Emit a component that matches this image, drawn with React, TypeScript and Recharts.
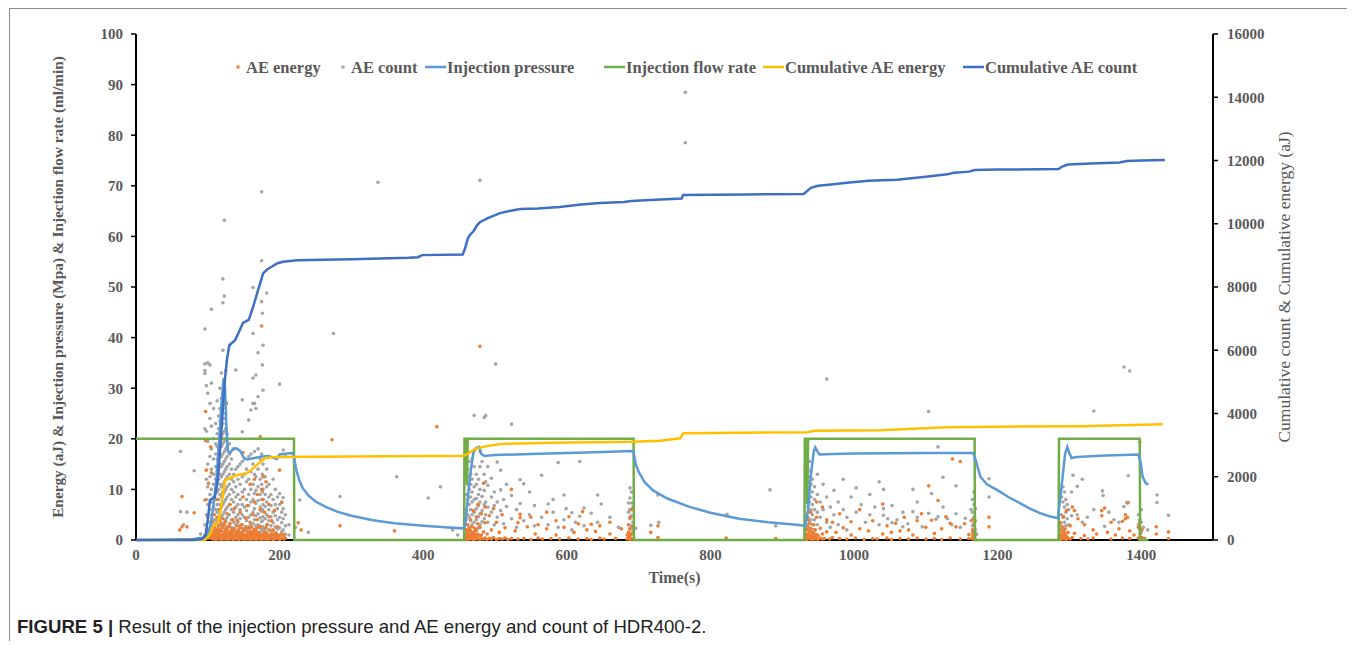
import React from 'react';
import { ComposedChart, Line, Scatter, XAxis, YAxis, Legend } from 'recharts';

const SERIF = '"Liberation Serif", "Times New Roman", serif';
const GRAY_TEXT = '#595959';

const xTicks = [0, 200, 400, 600, 800, 1000, 1200, 1400];
const leftTicks = [0, 10, 20, 30, 40, 50, 60, 70, 80, 90, 100];
const rightTicks = [0, 2000, 4000, 6000, 8000, 10000, 12000, 14000, 16000];

// injection pressure (Mpa): [time, value]
const injectionPressure: [number, number][] = [
  [0, 0], [40, 0.05], [80, 0.2], [95, 0.5], [100, 1.2], [104, 3], [108, 7], [112, 12], [116, 20], [119, 27],
  [122, 32], [124, 30], [126, 22], [128, 17.5], [131, 17.2], [135, 18], [140, 18.1], [145, 17.6], [150, 16.3],
  [155, 15.9], [165, 16.2], [175, 16.5], [185, 16.6], [192, 16.2], [196, 16], [200, 16.9], [210, 17.1],
  [218, 17.2], [220, 16.5], [223, 14], [227, 12], [232, 10.3], [240, 8.8], [250, 7.6], [265, 6.5], [280, 5.6],
  [300, 4.8], [330, 3.9], [360, 3.3], [400, 2.8], [430, 2.5], [455, 2.3], [458, 2.6], [462, 8], [466, 13.5],
  [470, 17.3], [474, 18.2], [478, 18.4], [481, 17], [485, 16.6], [500, 16.8], [550, 17], [600, 17.2],
  [650, 17.4], [690, 17.6], [693, 17.4], [696, 15], [700, 13.5], [708, 11.5], [720, 9.8], [740, 8.2],
  [770, 6.6], [800, 5.4], [840, 4.2], [880, 3.5], [920, 3], [932, 2.8], [936, 6], [940, 13], [944, 17.5],
  [946, 18.3], [949, 17.5], [952, 16.9], [970, 17], [1000, 17.1], [1100, 17.2], [1166, 17.2], [1169, 16],
  [1172, 14.5], [1176, 12.5], [1185, 11], [1199, 9.9], [1215, 8.5], [1231, 7.3], [1245, 6.2], [1259, 5.3],
  [1272, 4.7], [1284, 4.3], [1287, 8], [1291, 13], [1294, 17], [1297, 18.4], [1300, 17.2], [1303, 16.2],
  [1310, 16.4], [1350, 16.7], [1396, 16.9], [1399, 15.5], [1402, 12.5], [1406, 11.3], [1410, 10.9],
];

// injection flow rate (ml/min)
const injectionFlow: [number, number][] = [
  [0, 20], [220, 20], [220.5, 0], [457, 0], [457.5, 20], [460, 20], [461, 11], [462, 20], [693, 20],
  [693.5, 0], [931, 0], [931.5, 20], [934, 20], [935, 7], [936, 20], [1168, 20], [1168.5, 0], [1285, 0],
  [1285.5, 20], [1398, 20], [1398.5, 0], [1410, 0],
];

// cumulative AE count (right axis)
const cumulativeCount: [number, number][] = [
  [0, 0], [80, 0], [92, 32], [97, 160], [100, 640], [103, 1264], [110, 1360], [114, 1920], [117, 2848],
  [121, 4160], [124, 5120], [127, 5760], [130, 6160], [138, 6320], [143, 6560], [149, 6864], [157, 6960],
  [163, 7360], [170, 7904], [177, 8432], [183, 8560], [189, 8640], [197, 8752], [205, 8800], [224, 8848],
  [300, 8880], [380, 8928], [393, 8944], [398, 9008], [455, 9024], [458, 9200], [462, 9520], [465, 9648],
  [470, 9760], [475, 9952], [479, 10048], [490, 10176], [507, 10336], [520, 10400], [535, 10464],
  [560, 10480], [590, 10528], [620, 10608], [646, 10656], [680, 10688], [690, 10720], [716, 10752],
  [760, 10800], [762, 10912], [850, 10928], [930, 10944], [935, 11040], [940, 11136], [950, 11200],
  [965, 11232], [990, 11296], [1020, 11360], [1060, 11392], [1080, 11440], [1100, 11488], [1130, 11568],
  [1140, 11616], [1160, 11648], [1168, 11696], [1200, 11712], [1285, 11728], [1290, 11808], [1298, 11872],
  [1330, 11904], [1370, 11936], [1380, 11984], [1400, 12000], [1433, 12016],
];

// cumulative AE energy (right axis)
const cumulativeEnergy: [number, number][] = [
  [0, 0], [96, 0], [100, 80], [104, 240], [107, 416], [114, 528], [118, 960], [122, 1600], [124, 1888],
  [132, 1968], [140, 2048], [154, 2112], [160, 2208], [168, 2368], [175, 2496], [180, 2592], [196, 2624],
  [300, 2640], [400, 2656], [455, 2656], [462, 2720], [470, 2848], [477, 2912], [490, 2976], [511, 3040],
  [581, 3072], [692, 3104], [730, 3136], [758, 3216], [762, 3376], [841, 3392], [935, 3408], [945, 3456],
  [1036, 3472], [1129, 3568], [1200, 3584], [1315, 3600], [1430, 3664],
];

// AE count hits: [time, values at that time]
const aeCount: [number, number[]][] = [
  [62, [5.6, 17.5]], [66, [3]], [71, [5.5]], [81, [13.7]], [90, [1.2]],
  [96, [41.7, 32.9, 33.5, 34.8, 22, 3, 1]], [98, [30.5, 21.5, 12, 8, 5, 2, 0.5]],
  [100, [35, 29, 19.5, 15, 10.5, 7, 4.5, 2.2, 1]], [103, [34.6, 27, 24, 16.5, 12.5, 9, 6, 3.5, 1.5, 0.6]],
  [105, [45.6, 31, 22.5, 18, 14, 10, 7.5, 5, 2.8, 1.2]], [108, [26, 20, 16, 13, 11, 8.5, 6.5, 4, 2.5, 1]],
  [111, [23, 19, 17, 14.5, 12, 10, 8, 6, 4, 2, 0.8]], [113, [27.5, 21, 18.5, 16, 13.5, 11.5, 9.5, 7, 5.5, 3.5, 1.5]],
  [115, [24.5, 22, 20, 18, 16, 14, 12, 10, 8, 6, 4, 2, 0.5]],
  [117, [30, 26, 23.5, 21, 19, 17, 15, 13, 11, 9, 7, 5, 3, 1]],
  [119, [33, 28, 25, 22.5, 20.5, 18.5, 16.5, 14.5, 12.5, 10.5, 8.5, 6.5, 4.5, 2.5, 0.8]],
  [121, [37.5, 46.9, 51.6, 29, 26, 23, 21, 19, 17, 15, 13, 11, 9, 7, 5, 3, 1]],
  [123, [48.2, 63.2, 27, 24, 21.5, 19.5, 17.5, 15.5, 13.5, 11.5, 9.5, 7.5, 5.5, 3.5, 1.5]],
  [125, [33.5, 25, 22, 20, 18, 16, 14, 12, 10, 8, 6, 4, 2, 0.6]],
  [127, [21, 18.5, 16.5, 14.5, 12.5, 10.5, 8.5, 6.5, 4.5, 2.5, 1]], [130, [19, 17, 15, 13, 11, 9, 7, 5, 3, 1.5]],
  [133, [16, 14, 12, 10, 8, 6, 4, 2.5, 1]], [136, [18, 13, 11.5, 9.5, 7.5, 5.5, 3.5, 2, 0.7]],
  [139, [33.6, 14, 10.5, 8.5, 6.5, 4.5, 3, 1.2]], [142, [14.5, 12, 9, 7, 5, 3.5, 2, 0.8]],
  [145, [15, 11, 8, 6, 4.2, 2.8, 1.4]], [148, [27.7, 21.4, 15.5, 12.5, 9.5, 7, 5, 3, 1.5]],
  [151, [16, 13, 10, 6.5, 4.5, 2.2, 0.9]], [154, [14, 11.5, 8, 5.8, 3.8, 2, 1]],
  [157, [23.7, 16.5, 12, 9, 6.8, 4.5, 2.6, 1.2]], [160, [25.7, 17, 13.5, 10, 7.5, 5, 3, 1.5]],
  [163, [49.9, 40.8, 32, 27, 15, 11, 8, 5.5, 3.2, 1.6]], [165, [27, 17.5, 13, 9.2, 6.2, 4, 2, 0.8]],
  [167, [32.6, 26, 12.5, 9.8, 7.2, 4.8, 2.8, 1.2]], [170, [37, 28.3, 18, 14, 10.5, 7.8, 5.2, 3, 1.4]],
  [173, [16, 12, 9, 6.5, 4.4, 2.4, 1]], [175, [55.2, 47.1, 68.8, 17, 11, 8, 5.7, 3.6, 1.8]],
  [176, [44.8, 34.6, 13, 9.5, 6, 3.8, 2.1]], [177, [38.5, 29.6, 15, 10, 7, 4.6, 2.6, 1.1]],
  [180, [12.5, 9, 6.6, 4.2, 2.2, 1]], [182, [48.8, 14, 10.5, 7.5, 5, 3, 1.4]], [185, [11, 8.5, 6, 3.8, 2, 0.9]],
  [188, [9, 6.8, 4.6, 2.8, 1.2]], [191, [12, 8, 5.5, 3.4, 1.8]], [194, [10, 7, 4.8, 2.6, 1.1]],
  [197, [8.5, 6.2, 4, 2.2, 0.9]], [200, [30.8, 9.2, 7, 4.5, 2.4, 1]], [203, [7.5, 5.5, 3.4, 1.6]],
  [205, [17.8, 8.4, 6.2, 4.2, 2, 0.8]], [208, [16.5, 5, 2.8, 1.2]], [213, [3, 1]], [222, [2.5]],
  [228, [7.9]], [240, [1.5]], [275, [40.8]], [284, [8.6]], [337, [70.7]], [363, [12.5]], [407, [8.3]],
  [424, [10.5]], [441, [2]], [448, [1]],
  [458, [3, 1]], [460, [9, 6, 4, 2, 0.8]], [462, [14, 11, 8, 5, 3, 1.5]], [464, [15.5, 12.5, 10, 7, 4.5, 2.5, 1]],
  [466, [13, 11, 8.5, 6, 3.8, 1.8]], [468, [16, 12, 9.5, 7.5, 5, 3, 1.2]], [471, [24.6, 14.5, 10.5, 8, 5.5, 3.5, 1.6]],
  [474, [13, 11, 8.2, 6.2, 4, 2]], [477, [12, 9, 6.8, 4.6, 2.4]], [479, [71.1, 17.5, 14.5, 10, 7.5, 5.2, 3]],
  [482, [15.5, 8.6, 5.8, 3.6]], [485, [24.2, 13, 9.8, 7, 4.2]], [487, [24.6, 11.5, 7.5, 5]],
  [490, [14.5, 10.8, 6.5, 3.5]], [495, [12.2, 8.5, 5.5]], [499, [9.5, 6.8, 3]], [501, [34.8]], [503, [15.4, 7.5, 4.5]],
  [508, [13.8, 9.9, 5.8]], [512, [8, 3.2]], [516, [11, 6.6]], [523, [22.9, 8.8, 4.2]], [530, [6, 2.5]],
  [535, [11.9, 7.2]], [540, [11.1, 3.8]], [548, [9.5, 5]], [555, [6.8, 2.8]], [565, [12.8, 4.5]], [574, [7.1, 3]],
  [581, [8, 5.5]], [588, [15.3, 2.5]], [596, [8.9, 4]], [599, [6.2]], [607, [5.4, 2]], [612, [3.5]],
  [618, [15.5, 4.7]], [624, [6.3, 2.8]], [634, [5.3]], [643, [8.9, 3.5]], [648, [7.1]], [660, [4.5]], [672, [2.5]],
  [686, [7.3, 5.5, 3, 1.5]], [688, [10.3, 8.3, 6, 4.2, 2.2, 1]], [690, [9.5, 7.3, 4.8, 2.8, 1.2]],
  [692, [6.5, 3.5, 1.8]], [696, [2.3]], [717, [2.9]], [727, [8.9]], [728, [3.5]], [765, [88.5, 78.5]],
  [823, [5.1]], [883, [9.9]], [891, [2.8]],
  [932, [2, 1]], [934, [8, 5, 3, 1.2]], [936, [14, 11.5, 9, 6.5, 4.5, 2.5, 1]], [938, [15.5, 12.5, 10, 7.5, 5.5, 3.5, 1.8]],
  [940, [13.5, 11, 8.5, 6, 4, 2.2]], [942, [12, 9.5, 7, 5, 3]], [945, [10.5, 8, 6, 4, 2]], [949, [13, 9, 5.5, 3]],
  [953, [7.5, 4.5]], [957, [11, 6]], [962, [31.8, 8.5, 3.5]], [967, [6.5, 2.5]], [972, [9.8, 5]], [978, [7.5, 3]],
  [985, [12, 6]], [990, [4.5, 2]], [996, [8.5]], [1003, [10.3, 5.5]], [1010, [7]], [1016, [3.5]], [1022, [9, 5]],
  [1029, [6.5]], [1035, [11.5, 3]], [1041, [10, 6.2, 4.9]], [1047, [4.2]], [1053, [3.4, 6.8]], [1060, [4]],
  [1068, [5.5, 2.6]], [1075, [3.2]], [1082, [10, 5.6]], [1088, [7.5, 4.5]], [1095, [2.6]], [1104, [25.4, 5.3]],
  [1108, [9.2]], [1114, [4.1]], [1117, [18.4, 4.6]], [1124, [12.4, 6.5]], [1130, [4.2]], [1136, [3]],
  [1142, [10.7, 5.2]], [1148, [2.5]], [1155, [4.3]], [1163, [3.8, 6]], [1165, [8, 5.5, 2.8, 1.5]],
  [1167, [9.5, 7, 4.5, 3.2, 1]], [1169, [6.2, 3.8, 2]], [1171, [1.2]], [1188, [12.1, 8.5]],
  [1287, [3, 1.2]], [1289, [8.5, 5, 2.2]], [1291, [10.5, 7.5, 4.5, 2]], [1293, [9.5, 6.5, 3.5, 1.5]],
  [1295, [8, 5.5, 2.8]], [1297, [7, 4.2]], [1299, [6, 3]], [1303, [9.5, 4.8]], [1305, [12.8]], [1311, [10.6, 5]],
  [1318, [12, 3.5]], [1325, [4.5]], [1334, [25.5, 6]], [1346, [9.7]], [1347, [8.8]], [1349, [2.7]], [1355, [5.5]],
  [1362, [4]], [1369, [3.5]], [1376, [34.2, 6.6]], [1380, [7.4]], [1382, [12.7, 7.4]], [1384, [33.4]],
  [1396, [5, 3]], [1398, [19.3, 4, 2]], [1400, [6, 3.5, 1.5]], [1403, [2.5]], [1409, [2]], [1422, [7.4, 8.9]],
  [1438, [4.9]],
];

// AE energy hits (aJ)
const aeEnergy: [number, number[]][] = [
  [61, [2]], [64, [2.6, 8.6]], [71, [2.6]], [81, [5.4]], [96, [7.9, 0.5]], [97, [25.4, 19.6]], [98, [13.8, 1]],
  [101, [11.2, 0.4, 1.5]], [104, [18.4, 0.8, 2]], [105, [13.3, 0.3]], [107, [0.2, 0.9, 1.8, 3.5]],
  [109, [0.4, 1.3, 2.5, 5]], [111, [0.1, 0.8, 1.7, 3]], [113, [0.3, 1.1, 2.2, 4.5, 8]], [115, [0.2, 0.7, 1.5, 2.8]],
  [117, [0.4, 1.2, 2, 3.8, 6]], [119, [0.1, 0.9, 1.8, 3.2]], [121, [0.3, 1, 2.4, 4.2, 9.5]], [123, [0.2, 0.8, 1.6, 2.9]],
  [125, [0.4, 1.3, 2.2, 3.6]], [126, [27]], [127, [0.1, 0.9, 1.9, 5.2]], [129, [0.3, 1.1, 2.6]],
  [131, [0.2, 0.7, 1.5, 3.3, 7]], [133, [0.4, 1.2, 2.1]], [135, [0.1, 0.8, 1.7, 4]], [137, [0.3, 1, 2.3, 6.2]],
  [139, [0.2, 0.9, 1.6]], [141, [0.4, 1.3, 2.8, 3.9]], [143, [0.1, 0.7, 1.8]], [145, [0.3, 1.1, 2.4, 5.5]],
  [147, [0.2, 0.8, 1.5, 3]], [149, [0.4, 1.2, 2.2, 17.3, 8.5]], [151, [0.1, 0.9, 1.9]], [153, [0.3, 1, 2.6, 4.3]],
  [155, [0.2, 0.8, 1.4, 6.8]], [157, [0.4, 1.3, 2.3]], [159, [0.1, 0.7, 1.7, 3.5, 11]], [161, [0.3, 1.1, 2.5]],
  [163, [0.2, 0.9, 1.6, 5]], [165, [0.4, 1.2, 2.1, 7.5, 12]], [167, [0.1, 0.8, 1.8]], [169, [0.3, 1, 2.4, 4, 9]],
  [171, [0.2, 0.7, 1.5]], [173, [0.4, 1.2, 2.7, 20.4, 6]], [175, [0.1, 0.9, 42.3, 10]], [177, [0.3, 1.1, 12.5, 8]],
  [179, [0.2, 0.8, 1.6, 5.5]], [181, [0.4, 1.3, 2.4, 11.5]], [183, [0.1, 0.9, 3]], [185, [0.3, 1, 7, 4.6]],
  [187, [0.2, 0.8, 1.9]], [189, [0.4, 1.2, 3.8]], [191, [0.1, 0.9, 2]], [193, [0.3, 1.1, 5.8]], [195, [0.2, 0.7, 1.4]],
  [197, [0.4, 1, 2.6]], [200, [0.1, 0.8, 13.8]], [203, [0.3, 1.2, 7.4]], [206, [0.2, 0.9]], [208, [0.4]],
  [226, [3.4]], [230, [2]], [273, [19.8]], [284, [2.8]], [360, [1.8]], [419, [22.4]],
  [458, [0.2, 0.8]], [460, [0.4, 1.2, 2]], [462, [0.1, 0.7, 1.6, 3]], [464, [0.3, 1, 2.2]], [466, [0.2, 0.9, 1.8, 4]],
  [468, [0.4, 1.3, 2.6]], [470, [0.1, 0.8, 1.5, 5.8]], [472, [0.3, 1.1, 2.3]], [474, [0.2, 0.7, 1.9, 4.6]],
  [476, [0.4, 1.2, 3.2, 7]], [479, [38.3, 0.1, 0.9, 2.5]], [481, [0.3, 1, 5.2]], [484, [11.2, 0.2, 1.6]],
  [486, [0.4, 6.5, 3.4]], [489, [0.1, 1.2]], [492, [0.3, 4.8]], [495, [0.2, 2]], [498, [0.5, 6.2]], [502, [0.1, 3.5]],
  [506, [0.3, 1.5]], [510, [0.2, 5]], [514, [0.4, 2.4]], [518, [0.1]], [523, [10, 0.3]], [528, [1.8]],
  [532, [0.2, 3.4]], [535, [5.1, 4.4]], [540, [0.3]], [545, [2.6]], [550, [0.1, 4.5]], [556, [1.2]], [560, [0.4, 3]],
  [566, [0.2]], [572, [2.2, 5.5]], [578, [0.3]], [585, [3.8, 1]], [590, [0.2]], [596, [2.5]], [603, [0.4, 4.6]],
  [610, [1.5]], [616, [0.2, 3.2]], [622, [5.6]], [628, [0.3, 2]], [634, [0.1, 3.1]], [640, [1.7]], [646, [0.4, 2.8]],
  [652, [0.2]], [660, [1.2, 3.5]], [668, [0.3]], [676, [2.2]], [684, [0.2, 1]], [686, [0.5, 1.5, 3]],
  [688, [0.1, 0.9, 2.2, 4.5]], [690, [0.3, 1.2, 6]], [692, [0.2, 2.5]], [717, [1.5]], [727, [0.5, 2.8]],
  [822, [0.4]], [891, [0.3]],
  [932, [0.3, 1]], [934, [0.1, 0.8, 2]], [936, [0.4, 1.2, 2.5, 4]], [938, [0.2, 0.9, 1.7, 3.2]], [940, [0.3, 1, 2.2, 5.5]],
  [942, [0.1, 0.7, 1.5]], [944, [0.4, 1.3, 3]], [946, [0.2, 0.8, 2]], [948, [0.3, 1.1, 4.5, 7.5]], [950, [0.1, 0.9]],
  [953, [0.4, 2.3]], [956, [0.2, 1.2, 6.5]], [959, [0.3]], [962, [1.6, 4]], [966, [0.2]], [970, [3.5, 0.5]],
  [975, [1.5]], [980, [0.3, 5.2]], [985, [2.4]], [990, [0.2]], [996, [3.6, 1]], [1002, [0.4]], [1008, [2.2, 6]],
  [1014, [0.1]], [1020, [1.8]], [1026, [0.3, 3.8]], [1032, [0.2]], [1040, [7.1, 1.2]], [1046, [0.4, 2.8]],
  [1052, [0.1, 1.5]], [1058, [3.3]], [1064, [0.3, 1.8]], [1070, [4.5]], [1076, [0.2, 2]], [1082, [1]],
  [1088, [3.8, 0.4]], [1094, [5.2]], [1100, [0.2, 2.5]], [1104, [10.7]], [1108, [3.9]], [1112, [0.3, 1.3]],
  [1117, [7.8]], [1122, [0.1, 2.2]], [1128, [4.6]], [1134, [0.4, 3.3]], [1137, [16]], [1142, [2.6]],
  [1148, [15.5, 0.2]], [1154, [3.2]], [1160, [0.3, 1.1]], [1165, [0.2, 0.8, 2, 4]], [1167, [0.4, 1.3, 3.2]],
  [1169, [0.1, 1]], [1188, [4.5, 2.6]],
  [1286, [0.3, 1]], [1288, [0.1, 0.8, 1.9, 3.4]], [1290, [0.4, 1.2, 2.6]], [1292, [0.2, 0.9, 1.5, 4.6]],
  [1294, [0.3, 1.1, 2.2]], [1296, [0.1, 0.7, 5.8]], [1298, [0.4, 1.5]], [1301, [0.2, 2.8]], [1304, [6.5, 0.5]],
  [1307, [5.8, 1.3]], [1312, [4.2]], [1316, [0.3]], [1321, [0.9, 3]], [1326, [0.2]], [1333, [0.4, 2]], [1338, [1.2]],
  [1345, [4.8, 5.8]], [1349, [6.3]], [1353, [1.5]], [1358, [3.5, 0.2]], [1364, [1]], [1369, [2.2]], [1374, [0.4, 3.7]],
  [1378, [4.2, 5]], [1381, [7.3, 4.5]], [1384, [0.3, 1.8]], [1390, [1]], [1396, [0.4, 2.5]], [1398, [0.2, 1.2, 3.5]],
  [1401, [0.5, 2]], [1405, [0.3]], [1421, [1.2, 2.6]], [1438, [0.3, 1.6]],
];

const toPts = (arr: [number, number][]) => arr.map(([t, v]) => ({ t, v }));
const toHits = (cols: [number, number[]][]) => cols.flatMap(([t, vs]) => vs.map((v) => ({ t, v })));

const legendItems = [
  { label: 'AE energy', color: '#ED7D31', kind: 'dot', x: 228 },
  { label: 'AE count', color: '#A5A5A5', kind: 'dot', x: 333 },
  { label: 'Injection pressure', color: '#5B9BD5', kind: 'line', x: 415 },
  { label: 'Injection flow rate', color: '#70AD47', kind: 'line', x: 594 },
  { label: 'Cumulative AE energy', color: '#FFC000', kind: 'line', x: 753 },
  { label: 'Cumulative AE count', color: '#3F6FC4', kind: 'line', x: 953 },
];

const renderLegend = () => (
  <svg width={1330} height={24} style={{ display: 'block' }}>
    {legendItems.map((it) => (
      <g key={it.label}>
        {it.kind === 'dot' ? (
          <rect x={it.x - 1.5} y={10.5} width={3} height={3} fill={it.color} />
        ) : (
          <line x1={it.x} x2={it.x + 21} y1={12} y2={12} stroke={it.color} strokeWidth={2.5} />
        )}
        <text
          x={it.kind === 'dot' ? it.x + 8 : it.x + 22}
          y={12}
          dominantBaseline="central"
          fontFamily={SERIF}
          fontWeight={700}
          fontSize={16.5}
          fill={GRAY_TEXT}
        >
          {it.label}
        </text>
      </g>
    ))}
  </svg>
);

const tickStyle = { fill: GRAY_TEXT, fontSize: 15, fontWeight: 700, fontFamily: SERIF };
const axisLine = { stroke: '#000', strokeWidth: 2 };

const dot = (color: string) => (props: any) =>
  props.cx == null ? <g /> : <circle cx={props.cx} cy={props.cy} r={1.8} fill={color} />;

export default function App() {
  return (
    <div
      style={{
        position: 'relative',
        marginLeft: 1,
        width: 1341,
        height: 633,
        border: '1px solid #8c8c8c',
        borderBottom: 'none',
        boxSizing: 'border-box',
        background: '#fff',
      }}
    >
      <div style={{ position: 'absolute', left: 0, top: 0 }}>
        <ComposedChart width={1330} height={590} margin={{ top: 25, right: 0, bottom: 0, left: 0 }}>
          <XAxis
            dataKey="t"
            type="number"
            domain={[0, 1500]}
            ticks={xTicks}
            allowDataOverflow
            axisLine={axisLine}
            tickLine={false}
            tickSize={0}
            tickMargin={9}
            height={59}
            tick={tickStyle}
            label={{
              value: 'Time(s)',
              position: 'insideBottom',
              offset: 16,
              style: { fill: GRAY_TEXT, fontSize: 16, fontWeight: 700, fontFamily: SERIF },
            }}
          />
          <YAxis
            yAxisId="left"
            orientation="left"
            width={126}
            domain={[0, 100]}
            ticks={leftTicks}
            axisLine={axisLine}
            tickLine={{ stroke: '#000', strokeWidth: 1.5 }}
            tickSize={5}
            tickMargin={8}
            tick={tickStyle}
            label={{
              value: 'Energy (aJ) & Injection pressure (Mpa) & Injection flow rate (ml/min)',
              angle: -90,
              position: 'center',
              dx: -15,
              style: { fill: GRAY_TEXT, fontSize: 15.3, fontWeight: 700, fontFamily: SERIF, textAnchor: 'middle' },
            }}
          />
          <YAxis
            yAxisId="right"
            orientation="right"
            width={127}
            domain={[0, 16000]}
            ticks={rightTicks}
            axisLine={axisLine}
            tickLine={{ stroke: '#000', strokeWidth: 1.5 }}
            tickSize={5}
            tickMargin={9}
            tick={tickStyle}
            label={{
              value: 'Cumulative count & Cumulative energy (aJ)',
              angle: -90,
              position: 'center',
              dx: 7,
              style: { fill: GRAY_TEXT, fontSize: 17.5, fontWeight: 400, fontFamily: SERIF, textAnchor: 'middle' },
            }}
          />
          <Legend
            layout="horizontal"
            verticalAlign="middle"
            wrapperStyle={{ top: 46, left: 0, width: 1330 }}
            content={renderLegend}
          />
          <Scatter
            name="AE count"
            yAxisId="left"
            data={toHits(aeCount)}
            dataKey="v"
            fill="#A5A5A5"
            shape={dot('#A5A5A5')}
            isAnimationActive={false}
          />
          <Scatter
            name="AE energy"
            yAxisId="left"
            data={toHits(aeEnergy)}
            dataKey="v"
            fill="#ED7D31"
            shape={dot('#ED7D31')}
            isAnimationActive={false}
          />
          <Line
            name="Injection flow rate"
            yAxisId="left"
            data={toPts(injectionFlow)}
            dataKey="v"
            type="linear"
            stroke="#70AD47"
            strokeWidth={2.5}
            dot={false}
            activeDot={false}
            zIndex={700}
            isAnimationActive={false}
          />
          <Line
            name="Injection pressure"
            yAxisId="left"
            data={toPts(injectionPressure)}
            dataKey="v"
            type="linear"
            stroke="#5B9BD5"
            strokeWidth={2.5}
            dot={false}
            activeDot={false}
            zIndex={701}
            isAnimationActive={false}
          />
          <Line
            name="Cumulative AE energy"
            yAxisId="right"
            data={toPts(cumulativeEnergy)}
            dataKey="v"
            type="linear"
            stroke="#FFC000"
            strokeWidth={2.5}
            dot={false}
            activeDot={false}
            zIndex={702}
            isAnimationActive={false}
          />
          <Line
            name="Cumulative AE count"
            yAxisId="right"
            data={toPts(cumulativeCount)}
            dataKey="v"
            type="linear"
            stroke="#3F6FC4"
            strokeWidth={2.5}
            dot={false}
            activeDot={false}
            zIndex={703}
            isAnimationActive={false}
          />
        </ComposedChart>
      </div>
      <div
        style={{
          position: 'absolute',
          left: 7,
          top: 607,
          fontFamily: '"Liberation Sans", Arial, sans-serif',
          fontSize: 18.6,
          lineHeight: '22px',
          color: '#222',
          whiteSpace: 'nowrap',
        }}
      >
        <b>FIGURE 5 |</b> Result of the injection pressure and AE energy and count of HDR400-2.
      </div>
    </div>
  );
}
